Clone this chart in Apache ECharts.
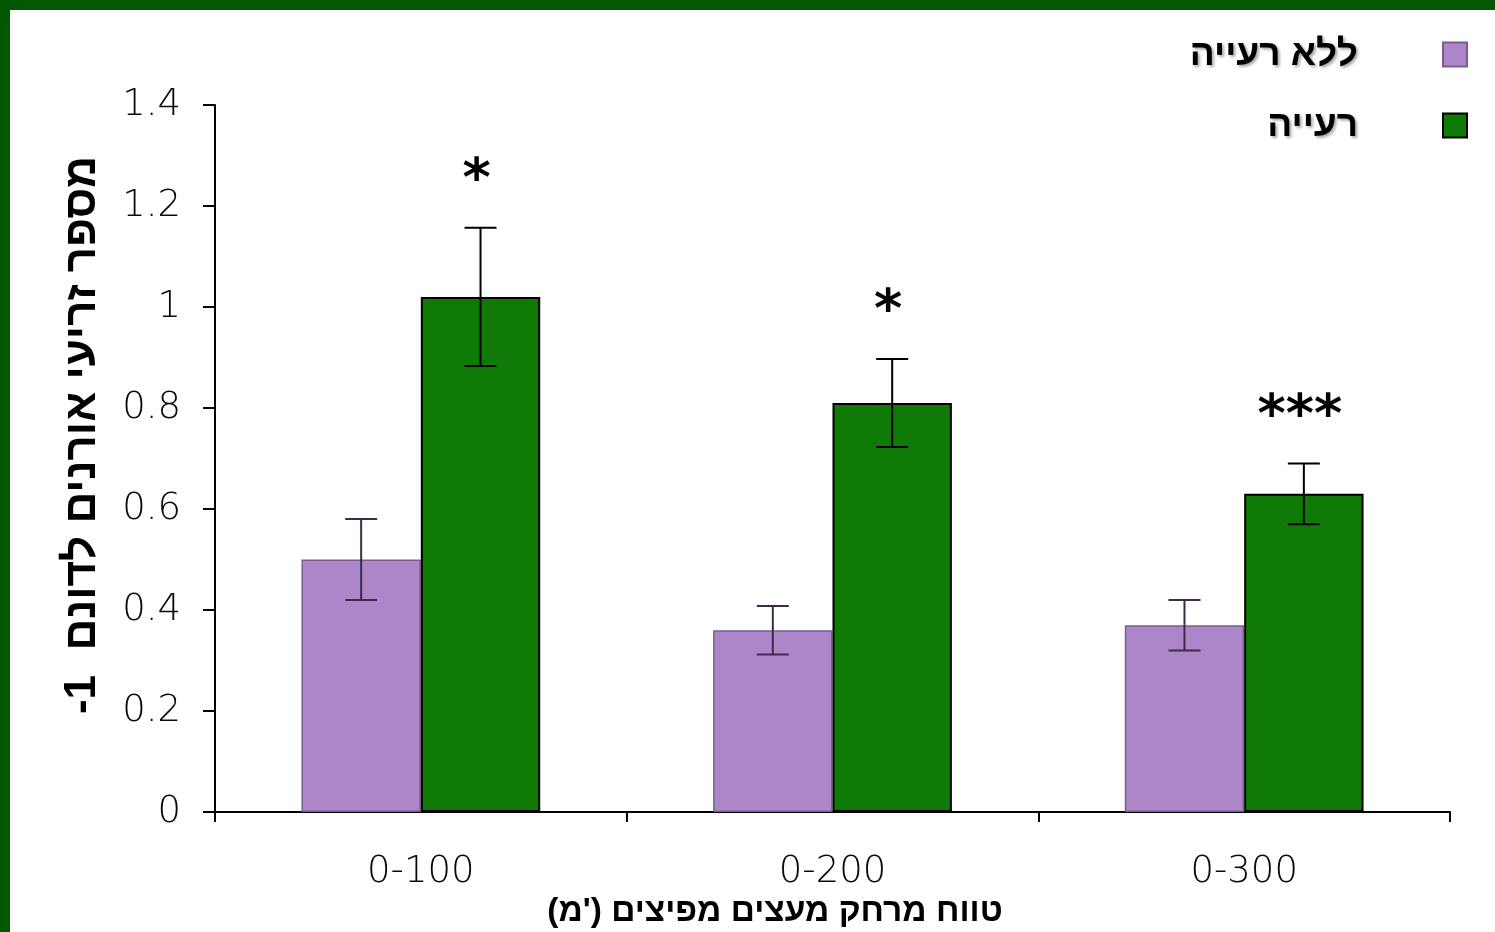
<!DOCTYPE html>
<html>
<head>
<meta charset="utf-8">
<script src="https://cdn.jsdelivr.net/npm/echarts@6/dist/echarts.min.js"></script>
<style>
  html, body { margin: 0; padding: 0; background: #ffffff; }
  #chart { width: 1495px; height: 932px; }
</style>
</head>
<body>
<div id="chart"></div>
<script>
// Distance ranges from seed trees (m)
const categories = ['0-100', '0-200', '0-300'];

// Pine seedlings per dunam: plots without grazing
const noGrazingMeans = [0.50, 0.36, 0.37];
const noGrazingErrors = [0.08, 0.048, 0.05];

// Pine seedlings per dunam: grazed plots
const grazingMeans = [1.02, 0.81, 0.63];
const grazingErrors = [0.137, 0.087, 0.06];

// Significance marks over the grazed bars
const significance = ['*', '*', '***'];

const seriesNames = ['ללא רעייה', 'רעייה'];

const HEB_FONT = '"Liberation Sans", "DejaVu Sans", Arial, sans-serif';
const NUM_FONT = '"DejaVu Sans", Verdana, sans-serif';
const CATEGORY_GAP = 0.42;

const purple = '#AD86C9';
const green = '#0F7A05';

const chart = echarts.init(document.getElementById('chart'), null, { renderer: 'canvas' });

// Error bar (and optional star text) drawn on top of one bar of a pair
function errorBarRenderer(side, color, marks) {
  return function (params, api) {
    const idx = api.value(0);
    const mean = api.value(1);
    const err = api.value(2);
    const band = api.size([1, 0])[0];
    const dx = side * band * (1 - CATEGORY_GAP) / 4;
    const top = api.coord([idx, mean + err]);
    const bot = api.coord([idx, mean - err]);
    const x = top[0] + dx;
    const cap = 16;
    const lineStyle = { stroke: color, lineWidth: 2 };
    const children = [
      { type: 'line', shape: { x1: x, y1: top[1], x2: x, y2: bot[1] }, style: lineStyle },
      { type: 'line', shape: { x1: x - cap, y1: top[1], x2: x + cap, y2: top[1] }, style: lineStyle },
      { type: 'line', shape: { x1: x - cap, y1: bot[1], x2: x + cap, y2: bot[1] }, style: lineStyle }
    ];
    if (marks && marks[idx]) {
      children.push({
        type: 'text',
        style: {
          text: marks[idx],
          x: x - 4,
          y: top[1] - 46,
          fill: '#000',
          font: 'bold 54px ' + NUM_FONT,
          align: 'center',
          verticalAlign: 'middle'
        }
      });
    }
    return { type: 'group', children: children };
  };
}

const hebShadow = {
  textShadowColor: 'rgba(0,0,0,0.35)',
  textShadowBlur: 3,
  textShadowOffsetX: 2,
  textShadowOffsetY: 2
};

const option = {
  backgroundColor: '#ffffff',
  animation: false,
  grid: { left: 215, right: 45, top: 105, bottom: 120, containLabel: false },
  legend: {
    data: seriesNames,
    orient: 'vertical',
    align: 'right',
    right: 22,
    top: 31,
    itemWidth: 24,
    itemHeight: 24,
    itemGap: 34,
    icon: 'rect',
    textStyle: Object.assign({
      fontFamily: HEB_FONT,
      fontWeight: 'bold',
      fontSize: 37,
      color: '#000',
      padding: [0, 80, 0, 0]
    }, hebShadow)
  },
  xAxis: {
    type: 'category',
    data: categories,
    boundaryGap: true,
    axisLine: { show: true, lineStyle: { color: '#000', width: 2 } },
    axisTick: { show: true, length: 10, lineStyle: { color: '#000', width: 2 } },
    axisLabel: { margin: 42, fontFamily: NUM_FONT, fontWeight: 200, fontSize: 37, color: '#0a0a0a' },
    splitLine: { show: false }
  },
  yAxis: {
    type: 'value',
    min: 0,
    max: 1.4,
    interval: 0.2,
    axisLine: { show: true, lineStyle: { color: '#000', width: 2 } },
    axisTick: { show: true, length: 12, lineStyle: { color: '#000', width: 2 } },
    axisLabel: { margin: 34, fontFamily: NUM_FONT, fontWeight: 200, fontSize: 37, color: '#0a0a0a' },
    splitLine: { show: false }
  },
  series: [
    {
      name: seriesNames[0],
      type: 'bar',
      data: noGrazingMeans,
      barGap: '0%',
      barCategoryGap: (CATEGORY_GAP * 100) + '%',
      itemStyle: { color: purple, borderColor: '#7b5c8e', borderWidth: 1.5 }
    },
    {
      name: seriesNames[1],
      type: 'bar',
      data: grazingMeans,
      barGap: '0%',
      barCategoryGap: (CATEGORY_GAP * 100) + '%',
      itemStyle: { color: green, borderColor: '#000', borderWidth: 2 }
    },
    {
      name: 'err0',
      type: 'custom',
      z: 10,
      renderItem: errorBarRenderer(-1, '#3e2b48', null),
      data: noGrazingMeans.map((v, i) => [i, v, noGrazingErrors[i]])
    },
    {
      name: 'err1',
      type: 'custom',
      z: 10,
      renderItem: errorBarRenderer(1, '#000', significance),
      data: grazingMeans.map((v, i) => [i, v, grazingErrors[i]])
    }
  ],
  graphic: [
    { type: 'rect', left: 0, top: 0, shape: { width: 1495, height: 10 }, style: { fill: '#025502' }, z: 100 },
    { type: 'rect', left: 0, top: 0, shape: { width: 10, height: 932 }, style: { fill: '#025502' }, z: 100 },
    {
      type: 'text',
      x: 83,
      y: 435,
      rotation: Math.PI / 2,
      style: Object.assign({
        text: '-1  מספר זריעי אורנים לדונם',
        font: 'bold 44px ' + HEB_FONT,
        fill: '#000',
        align: 'center',
        verticalAlign: 'middle'
      }, { shadowColor: 'rgba(0,0,0,0.35)', shadowBlur: 3, shadowOffsetX: 2, shadowOffsetY: -2 })
    },
    {
      type: 'text',
      x: 775,
      y: 912,
      style: Object.assign({
        // unit in parentheses sits at the left end of the Hebrew phrase
        text: '(מ\u200E\'\u200E) טווח מרחק מעצים מפיצים',
        font: 'bold 33.5px ' + HEB_FONT,
        fill: '#000',
        align: 'center',
        verticalAlign: 'middle'
      }, { shadowColor: 'rgba(0,0,0,0.35)', shadowBlur: 3, shadowOffsetX: 2, shadowOffsetY: 2 })
    }
  ]
};

chart.setOption(option);
</script>
</body>
</html>
